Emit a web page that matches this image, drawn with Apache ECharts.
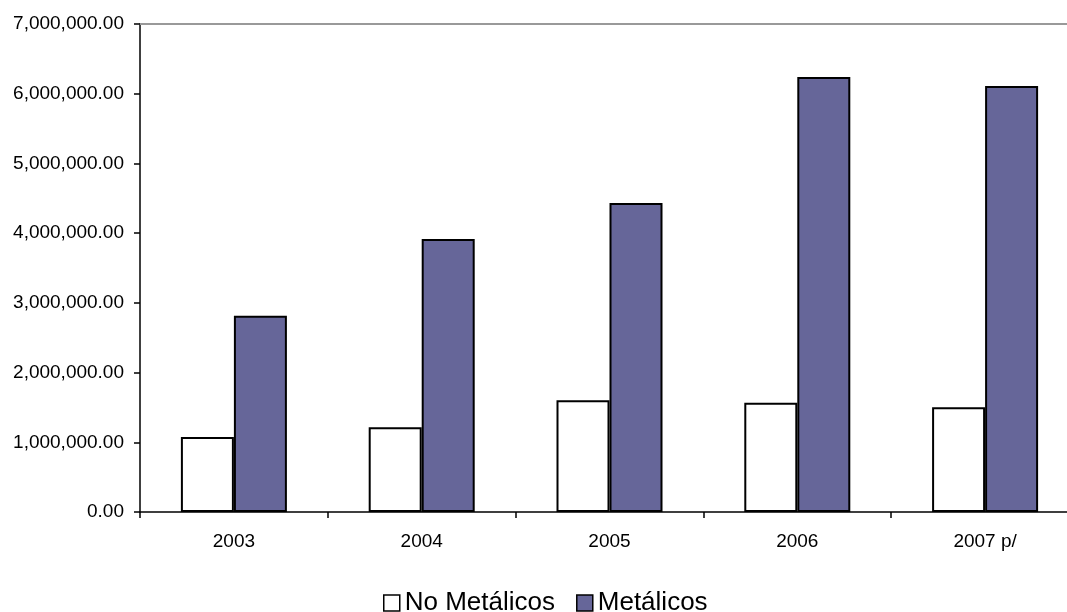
<!DOCTYPE html>
<html>
<head>
<meta charset="utf-8">
<script src="https://cdn.jsdelivr.net/npm/echarts@6/dist/echarts.min.js"></script>
<style>
  html, body { margin: 0; padding: 0; background: #fff; overflow: hidden; }
  #main { width: 1079px; height: 612px; }
</style>
</head>
<body>
<div id="main"></div>
<script>
var years = ['2003', '2004', '2005', '2006', '2007 p/'];
var noMetalicos = [1076000, 1215000, 1602000, 1568000, 1502000];
var metalicos = [2816000, 3917000, 4433000, 6241000, 6112000];

var chartDom = document.getElementById('main');
var myChart = echarts.init(chartDom);
var font = '"Liberation Sans", Arial, sans-serif';

function fmt(v) {
  return v.toLocaleString('en-US', { minimumFractionDigits: 2, maximumFractionDigits: 2 });
}

// the plot runs a little past the right edge of the window, like the original
var option = {
  animation: false,
  backgroundColor: '#fff',
  grid: {
    left: 140,
    right: 0,
    top: 24,
    bottom: 100
  },
  legend: {
    top: 583,
    left: 378,
    itemWidth: 16,
    itemHeight: 16,
    itemGap: 21,
    icon: 'rect',
    itemStyle: { borderColor: '#000', borderWidth: 1.5 },
    textStyle: { fontFamily: font, fontSize: 26, color: '#000', lineHeight: 30 },
    data: ['No Metálicos', 'Metálicos']
  },
  xAxis: [{
    type: 'category',
    data: years,
    boundaryGap: true,
    axisLine: { lineStyle: { color: '#000', width: 1.5 } },
    axisTick: { show: true, length: 6, lineStyle: { color: '#000', width: 1.5 } },
    axisLabel: { fontFamily: font, fontSize: 19, color: '#000', margin: 20 }
  }, {
    type: 'category',
    data: years,
    position: 'top',
    axisLine: { lineStyle: { color: '#999', width: 2 } },
    axisTick: { show: false },
    axisLabel: { show: false }
  }],
  yAxis: {
    type: 'value',
    min: 0,
    max: 7000000,
    interval: 1000000,
    splitLine: { show: false },
    axisLine: { show: true, lineStyle: { color: '#000', width: 1.5 } },
    axisTick: { show: true, length: 6, lineStyle: { color: '#000', width: 1.5 } },
    axisLabel: { fontFamily: font, fontSize: 19, color: '#000', margin: 16, formatter: fmt }
  },
  series: [{
    name: 'No Metálicos',
    type: 'bar',
    data: noMetalicos,
    barWidth: 53,
    barGap: '0%',
    itemStyle: { color: '#ffffff', borderColor: '#000', borderWidth: 2 }
  }, {
    name: 'Metálicos',
    type: 'bar',
    data: metalicos,
    barWidth: 53,
    barGap: '0%',
    itemStyle: { color: '#666699', borderColor: '#000', borderWidth: 2 }
  }]
};

myChart.setOption(option);
</script>
</body>
</html>
